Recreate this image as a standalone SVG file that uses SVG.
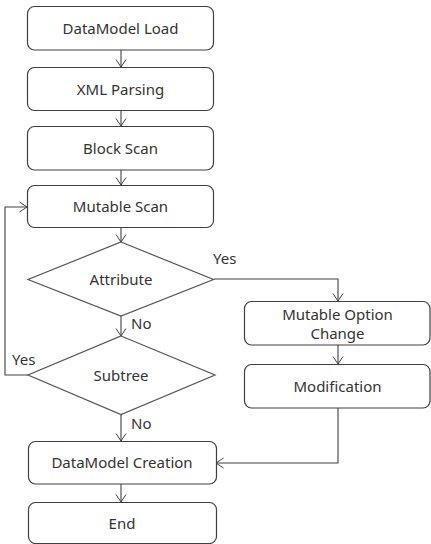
<svg xmlns="http://www.w3.org/2000/svg" width="431" height="544" viewBox="0 0 431 544">
<defs>
<marker id="arr" markerWidth="12" markerHeight="12" refX="10" refY="6" orient="auto" markerUnits="userSpaceOnUse">
<path d="M2.5,1 L10,6 L2.5,11" fill="none" stroke="#404040" stroke-width="1"/>
</marker>
<style>
.box{fill:#fff;stroke:#404040;stroke-width:1.2}
.dia{fill:#fff;stroke:#555;stroke-width:1.2}
.t{font-family:"Noto Sans","Segoe UI",sans-serif;font-size:15px;fill:#333;text-anchor:middle}
.l{font-family:"Noto Sans","Segoe UI",sans-serif;font-size:15px;fill:#333}
.c{fill:none;stroke:#404040;stroke-width:1.1;marker-end:url(#arr)}
</style>
</defs>
<rect width="431" height="544" fill="#fff"/>
<g id="connectors">
<path class="c" d="M121,50 V67"/>
<path class="c" d="M121,110 V126"/>
<path class="c" d="M121,170 V185"/>
<path class="c" d="M121,227 V242"/>
<path class="c" d="M121,316 V336"/>
<path class="c" d="M121,415 V441"/>
<path class="c" d="M121,484 V502"/>
<path class="c" d="M214,279 H338 V301"/>
<path class="c" d="M338,345 V364"/>
<path class="c" d="M338,408 V463 H216"/>
<path class="c" d="M28,375 H5 V207 H27"/>
<text class="l" x="213" y="264">Yes</text>
<text class="l" x="131" y="329">No</text>
<text class="l" x="12" y="365">Yes</text>
<text class="l" x="131" y="429">No</text>
</g>
<g id="load"><rect class="box" x="27.5" y="6.5" width="186" height="43.5" rx="7"/><text class="t" x="120.5" y="33.5">DataModel Load</text></g>
<g id="xml"><rect class="box" x="27.5" y="67.5" width="186" height="43" rx="7"/><text class="t" x="120.5" y="94.5">XML Parsing</text></g>
<g id="block"><rect class="box" x="27.5" y="126.5" width="186" height="43.5" rx="7"/><text class="t" x="120.5" y="153.5">Block Scan</text></g>
<g id="mscan"><rect class="box" x="27.5" y="185.5" width="186" height="42" rx="7"/><text class="t" x="120.5" y="211.5">Mutable Scan</text></g>
<g id="attribute"><polygon class="dia" points="121,242 213.5,279.5 121,316 28,279.5"/><text class="t" x="121" y="284.5">Attribute</text></g>
<g id="subtree"><polygon class="dia" points="121,336 215,375 121,414.5 28,375"/><text class="t" x="121" y="380.5">Subtree</text></g>
<g id="moc"><rect class="box" x="244.5" y="301.5" width="185.5" height="43.5" rx="7"/><text class="t" x="337.5" y="320">Mutable Option</text><text class="t" x="337.5" y="338.5">Change</text></g>
<g id="modification"><rect class="box" x="244.5" y="364.5" width="185.5" height="43.5" rx="7"/><text class="t" x="337.5" y="391.5">Modification</text></g>
<g id="creation"><rect class="box" x="28.5" y="441.5" width="188" height="42.5" rx="7"/><text class="t" x="122" y="467.5">DataModel Creation</text></g>
<g id="end"><rect class="box" x="28.5" y="502.5" width="188" height="41" rx="7"/><text class="t" x="122" y="528.5">End</text></g>
</svg>
